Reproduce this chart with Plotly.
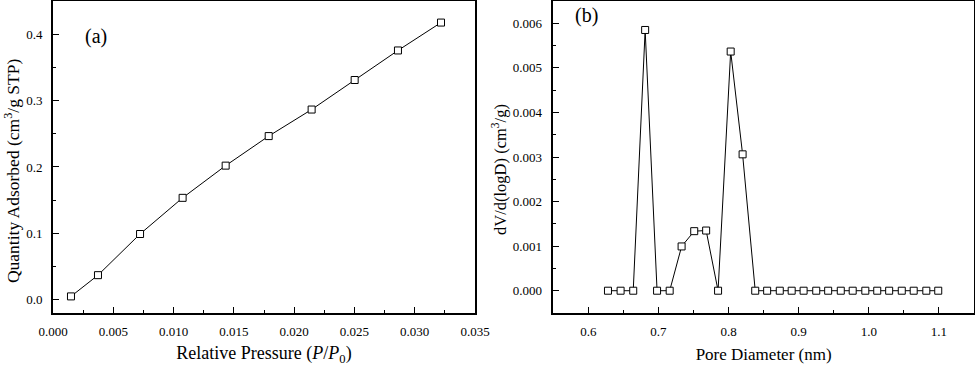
import plotly.graph_objects as go

# Panel (a): adsorption isotherm
rel_pressure = [0.00149, 0.00373, 0.00722, 0.01075, 0.01432, 0.01789, 0.02145, 0.02502, 0.02861, 0.03218]
qty_adsorbed = [0.005, 0.037, 0.099, 0.1535, 0.202, 0.2465, 0.2865, 0.331, 0.3755, 0.4175]

# Panel (b): pore size distribution
pore_diam = [0.628, 0.646, 0.664, 0.681, 0.698, 0.716, 0.733, 0.751, 0.768, 0.785,
             0.803, 0.820, 0.838, 0.855, 0.873, 0.890, 0.907, 0.925, 0.942, 0.960,
             0.977, 0.995, 1.012, 1.029, 1.047, 1.064, 1.082, 1.099]
dv_dlogd = [0.0, 0.0, 0.0, 0.00585, 0.0, 0.0, 0.000993, 0.001336, 0.00135, 0.0,
            0.005366, 0.00306, 0.0, 0.0, 0.0, 0.0, 0.0, 0.0, 0.0, 0.0,
            0.0, 0.0, 0.0, 0.0, 0.0, 0.0, 0.0, 0.0]

x_ticks_a = [0.000, 0.005, 0.010, 0.015, 0.020, 0.025, 0.030, 0.035]
y_ticks_a = [0.0, 0.1, 0.2, 0.3, 0.4]
x_ticks_b = [0.6, 0.7, 0.8, 0.9, 1.0, 1.1]
y_ticks_b = [0.000, 0.001, 0.002, 0.003, 0.004, 0.005, 0.006]

FONT = "Liberation Serif, Times New Roman, serif"

fig = go.Figure()
fig.add_trace(go.Scatter(x=rel_pressure, y=qty_adsorbed, mode="lines+markers",
                         line=dict(color="black", width=1),
                         marker=dict(symbol="square", size=7, color="white",
                                     line=dict(width=1, color="black")),
                         xaxis="x", yaxis="y", showlegend=False))
fig.add_trace(go.Scatter(x=pore_diam, y=dv_dlogd, mode="lines+markers",
                         line=dict(color="black", width=1),
                         marker=dict(symbol="square", size=7, color="white",
                                     line=dict(width=1, color="black")),
                         xaxis="x2", yaxis="y2", showlegend=False))

minor_common = dict(ticks="inside", ticklen=3, tickwidth=1.2, tickcolor="black", showgrid=False)
axis_common = dict(showline=True, linecolor="black", linewidth=1.6, mirror=True,
                   ticks="inside", ticklen=6, tickwidth=1.2, tickcolor="black",
                   showgrid=False, zeroline=False, automargin=False,
                   tickfont=dict(family=FONT, size=13, color="black"))

fig.update_layout(
    width=975, height=367, autosize=False,
    margin=dict(l=53, r=1, t=1, b=54),
    paper_bgcolor="white", plot_bgcolor="white",
    font=dict(family=FONT, color="black"),
    xaxis=dict(axis_common, domain=[0, 0.4582], range=[0, 0.035],
               tickvals=x_ticks_a, ticktext=[f"{v:.3f}" for v in x_ticks_a],
               ticklabelstandoff=6,
               minor=dict(minor_common, dtick=0.0025, tick0=0),
               title=dict(text="Relative Pressure (<i>P</i>/<i>P</i><sub>0</sub>)",
                          font=dict(family=FONT, size=18), standoff=8)),
    yaxis=dict(axis_common, domain=[0, 1], range=[-0.02, 0.45],
               tickvals=y_ticks_a, ticktext=[f"{v:.1f}" for v in y_ticks_a],
               ticklabelstandoff=6,
               minor=dict(minor_common, dtick=0.05, tick0=0)),
    xaxis2=dict(axis_common, domain=[0.5432, 1], range=[0.55, 1.15], anchor="y2",
                tickvals=x_ticks_b, ticktext=[f"{v:.1f}" for v in x_ticks_b],
                ticklabelstandoff=6,
                minor=dict(minor_common, dtick=0.05, tick0=0.55),
                title=dict(text="Pore Diameter (nm)",
                           font=dict(family=FONT, size=17), standoff=10)),
    yaxis2=dict(axis_common, domain=[0, 1], range=[-0.0005, 0.0065], anchor="x2",
                tickvals=y_ticks_b, ticktext=[f"{v:.3f}" for v in y_ticks_b],
                ticklabelstandoff=7,
                minor=dict(minor_common, dtick=0.0005, tick0=0)),
    annotations=[
        dict(text="(a)", xref="x domain", yref="y domain", x=0.071, y=0.885,
             xanchor="left", yanchor="middle", showarrow=False,
             font=dict(family=FONT, size=20, color="black")),
        dict(text="(b)", xref="x2 domain", yref="y2 domain", x=0.048, y=0.952,
             xanchor="left", yanchor="middle", showarrow=False,
             font=dict(family=FONT, size=20, color="black")),
        dict(text="Quantity Adsorbed (cm<sup>3</sup>/g STP)", textangle=-90,
             xref="paper", yref="paper", x=-0.0445, y=0.455,
             xanchor="center", yanchor="middle", showarrow=False,
             font=dict(family=FONT, size=17.5, color="black")),
        dict(text="dV/d(logD) (cm<sup>3</sup>/g)", textangle=-90,
             xref="paper", yref="paper", x=0.4842, y=0.4615,
             xanchor="center", yanchor="middle", showarrow=False,
             font=dict(family=FONT, size=16.5, color="black")),
    ],
)

fig.write_html("out.html",
               config={"displayModeBar": False, "responsive": False},
               post_script=("document.documentElement.style.margin='0';"
                            "document.documentElement.style.overflow='hidden';"
                            "document.body.style.margin='0';"
                            "document.body.style.padding='0';"
                            "document.body.style.overflow='hidden';"))
